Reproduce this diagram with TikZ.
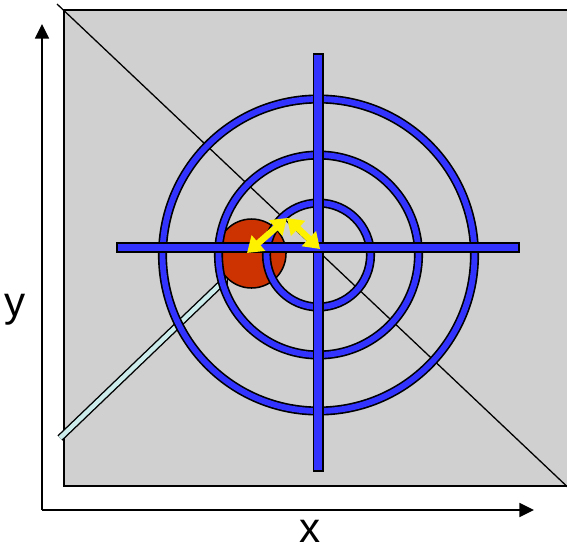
\documentclass[tikz,border=0pt]{standalone}
\usepackage{fontspec}
\setmainfont{Liberation Sans}
\usetikzlibrary{arrows.meta}

\definecolor{bggray}{RGB}{208,208,208}
\definecolor{ringblue}{RGB}{51,51,255}
\definecolor{ballred}{RGB}{204,51,0}
\definecolor{beamblue}{RGB}{204,236,236}

\begin{document}
\begin{tikzpicture}[
        x=0.03cm, y=-0.03cm,
        ring/.style={draw=black, line width=1.4pt, double=ringblue, double distance=5pt},
        bar/.style={draw=black, line width=1.4pt, fill=ringblue},
        axis/.style={-{Triangle[length=12.5pt,width=12pt]}, line width=1.3pt},
        swing/.style={{Triangle[length=13pt,width=17pt]}-{Triangle[length=13pt,width=17pt]}, line width=5.5pt, yellow},
        lbl/.style={font=\fontsize{36}{42}\selectfont, inner sep=0pt}
    ]
    \clip (0,0) rectangle (567,553);
    \useasboundingbox (0,0) rectangle (567,553);

    % --- field and axes ---
    \draw[fill=bggray, line width=1.3pt] (64,10) rectangle (580,486);
    \coordinate (d1) at (57,4);
    \coordinate (d2) at (575,494);
    \draw[line width=1.1pt] (d1) -- (d2);
    \coordinate (o) at (42,510);
    \coordinate (ytip) at (42,24);
    \coordinate (xtip) at (534,510);
    \draw[axis] (o) -- (ytip);
    \draw[axis] (o) -- (xtip);
    \node[lbl] (ylabel) at (15,310) {y};
    \node[lbl] (xlabel) at (310,531) {x};

    % --- beam to the ball ---
    \coordinate (b1) at (60,438);
    \coordinate (b2) at (228,277);
    \draw[line width=6.2pt, -{Triangle[length=5pt,width=10pt]}] (b1) -- (b2);
    \draw[line width=3.8pt, beamblue, shorten >=1.5pt, -{Triangle[length=3pt,width=6.5pt]}] (b1) -- (b2);

    % --- ball ---
    \node[circle, draw, line width=1.3pt, fill=ballred, minimum size=69*0.03cm, inner sep=0pt] (ball) at (251.5,253.5) {};

    % --- rings and cross ---
    \coordinate (c) at (318.5,255);
    \draw[ring] (c) circle[radius=156];
    \draw[ring] (c) circle[radius=100];
    \draw[ring] (c) circle[radius=52];
    \draw[bar] (313.5,54) rectangle (323,471);
    \draw[bar] (117,243) rectangle (519,252);

    % --- swing arrows ---
    \coordinate (s1) at (247,253);
    \coordinate (s2) at (287,218);
    \coordinate (s3) at (320,249);
    \draw[swing] (s1) -- (s2);
    \draw[swing] (s2) -- (s3);
\end{tikzpicture}
\end{document}
